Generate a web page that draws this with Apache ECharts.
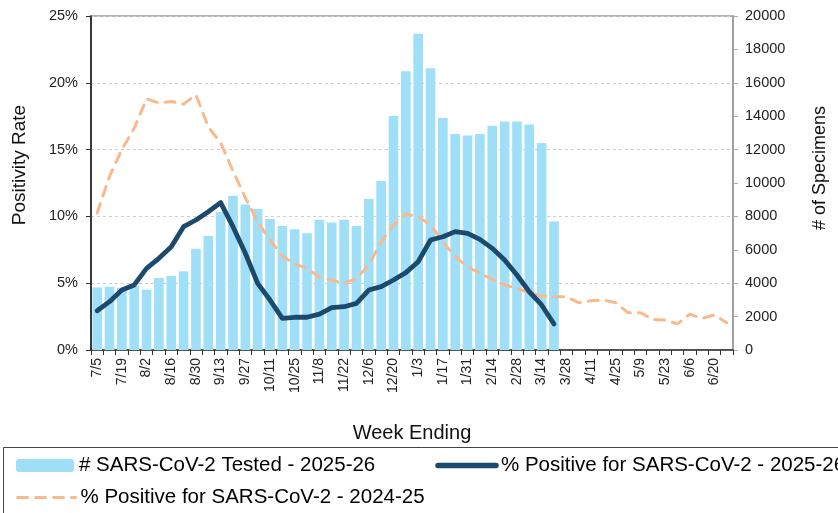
<!DOCTYPE html>
<html>
<head>
<meta charset="utf-8">
<script src="https://cdn.jsdelivr.net/npm/echarts@6/dist/echarts.min.js"></script>
<style>
html,body{margin:0;padding:0;background:#fff;}
#chart{width:838px;height:513px;}
</style>
</head>
<body>
<div id="chart"></div>
<script>
const weeks = ['7/5','7/12','7/19','7/26','8/2','8/9','8/16','8/23','8/30','9/6','9/13','9/20','9/27','10/4','10/11','10/18','10/25','11/1','11/8','11/15','11/22','11/29','12/6','12/13','12/20','12/27','1/3','1/10','1/17','1/24','1/31','2/7','2/14','2/21','2/28','3/7','3/14','3/21','3/28','4/4','4/11','4/18','4/25','5/2','5/9','5/16','5/23','5/30','6/6','6/13','6/20','6/27'];

const tested2526 = [3750,3790,3730,3830,3610,4310,4430,4710,6070,6830,8260,9240,8720,8440,7840,7430,7230,6990,7800,7630,7800,7430,9040,10120,14010,16690,18940,16870,13890,12930,12850,12930,13430,13690,13690,13510,12400,7690];

const positive2526 = [2.94,3.62,4.49,4.87,6.11,6.86,7.73,9.23,9.73,10.35,11.03,9.23,7.24,4.99,3.74,2.37,2.45,2.45,2.69,3.17,3.24,3.49,4.49,4.74,5.24,5.79,6.61,8.23,8.48,8.86,8.73,8.28,7.61,6.74,5.61,4.36,3.37,1.95];

const positive2425 = [10.25,13.0,15.0,16.6,18.8,18.5,18.6,18.4,19.1,16.7,15.5,13.4,11.4,9.6,8.23,7.03,6.44,6.11,5.44,5.24,4.99,5.36,6.36,8.1,9.36,10.2,9.98,9.36,8.1,6.98,6.23,5.74,5.29,4.87,4.62,4.29,4.04,3.99,3.99,3.54,3.69,3.74,3.54,2.79,2.79,2.29,2.25,1.95,2.69,2.37,2.62,2.04];

const leftTicks = {min:0, max:25, interval:5};
const rightTicks = {min:0, max:20000, interval:2000};

const names = ['# SARS-CoV-2 Tested - 2025-26','% Positive for SARS-CoV-2 - 2025-26','% Positive for SARS-CoV-2 - 2024-25'];

const FONT = "'Liberation Sans', Arial, sans-serif";
const chart = echarts.init(document.getElementById('chart'), null, {renderer:'canvas'});
const hideSym = {color: 'rgba(0,0,0,0)', borderWidth: 0, opacity: 0};

chart.setOption({
  animation: false,
  textStyle: {fontFamily: FONT},
  grid: {left: 91, right: 105, top: 16, bottom: 163, show: true, borderColor: '#9a9a9a', borderWidth: 1.5, containLabel: false},
  legend: [
    {data: [names[0], {name: names[1], itemStyle: hideSym, lineStyle: {width: 5.5, cap: 'round'}}], left: 16, top: 455, width: 1200, itemWidth: 58, itemHeight: 13, itemGap: 60,
     textStyle: {fontSize: 20.5, color: '#000', fontFamily: FONT}, padding: 0},
    {data: [{name: names[2], itemStyle: hideSym, lineStyle: {width: 3}}], left: 16, top: 487, width: 1200, itemWidth: 58, itemHeight: 13,
     textStyle: {fontSize: 20.5, color: '#000', fontFamily: FONT}, padding: 0}
  ],
  graphic: [{
    type: 'rect', silent: true,
    shape: {x: 3.5, y: 447.5, width: 900, height: 100},
    style: {fill: 'none', stroke: '#444', lineWidth: 1}
  }],
  xAxis: {
    type: 'category', data: weeks, boundaryGap: true,
    name: 'Week Ending', nameLocation: 'middle', nameGap: 73,
    nameTextStyle: {fontSize: 20, color: '#111', fontFamily: FONT},
    axisLine: {lineStyle: {color: '#333', width: 1.5}},
    axisTick: {show: true, interval: 0, length: 5, lineStyle: {color: '#333'}},
    axisLabel: {interval: 1, rotate: 90, fontSize: 14, color: '#222', margin: 8, fontFamily: FONT}
  },
  yAxis: [
    {
      type: 'value', min: leftTicks.min, max: leftTicks.max, interval: leftTicks.interval,
      name: 'Positivity Rate', nameLocation: 'middle', nameGap: 62, nameRotate: 90,
      nameTextStyle: {fontSize: 19, color: '#111', fontFamily: FONT, padding: [0, 0, 0, 36]},
      axisLine: {show: true, lineStyle: {color: '#111', width: 1.5}},
      axisTick: {show: true, length: 5, lineStyle: {color: '#333'}},
      axisLabel: {formatter: '{value}%', fontSize: 14.5, color: '#222', margin: 13, fontFamily: FONT},
      splitLine: {show: true, lineStyle: {color: '#cfcfcf', type: [3, 3], width: 1}}
    },
    {
      type: 'value', position: 'right', min: rightTicks.min, max: rightTicks.max, interval: rightTicks.interval,
      name: '# of Specimens', nameLocation: 'middle', nameGap: 78, nameRotate: 90,
      nameTextStyle: {fontSize: 18, color: '#111', fontFamily: FONT, padding: [0, 0, 0, 30]},
      axisLine: {show: true, lineStyle: {color: '#9a9a9a', width: 1.5}},
      axisTick: {show: true, length: 5, lineStyle: {color: '#aaa'}},
      axisLabel: {formatter: function (v) { return String(v); }, fontSize: 14.5, color: '#222', margin: 12, fontFamily: FONT},
      splitLine: {show: false}
    }
  ],
  series: [
    {
      name: names[0], type: 'bar', yAxisIndex: 1, data: tested2526,
      barCategoryGap: '22%', itemStyle: {color: '#9FDFF7'}, z: 1
    },
    {
      name: names[2], type: 'line', yAxisIndex: 0, data: positive2425,
      symbol: 'none', smooth: false,
      lineStyle: {color: '#F8B98D', width: 3, type: [10, 8], cap: 'round'},
      itemStyle: {color: '#F8B98D'}, z: 3
    },
    {
      name: names[1], type: 'line', yAxisIndex: 0, data: positive2526,
      symbol: 'none', smooth: false,
      lineStyle: {color: '#1C4A6E', width: 4.8, cap: 'round', join: 'round'},
      itemStyle: {color: '#1C4A6E'}, z: 4
    }
  ]
});
</script>
</body>
</html>
